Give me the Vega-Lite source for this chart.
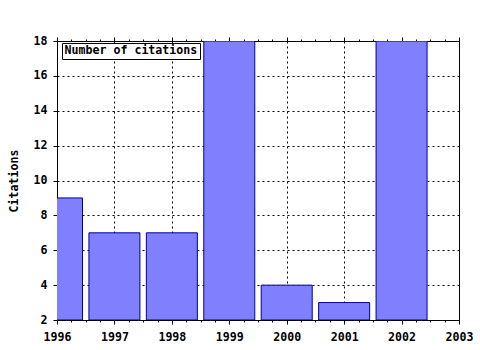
{
  "$schema": "https://vega.github.io/schema/vega-lite/v6.json",
  "width": 402,
  "height": 279,
  "autosize": {"type": "none"},
  "padding": {"left": 57, "top": 41, "right": 21, "bottom": 30},
  "background": "white",
  "config": {
    "view": {"stroke": "black", "strokeWidth": 1},
    "font": "DejaVu Sans Mono",
    "axis": {
      "labelFont": "DejaVu Sans Mono",
      "labelFontWeight": "bold",
      "labelFontSize": 11.6,
      "labelColor": "black",
      "titleFont": "DejaVu Sans Mono",
      "titleFontWeight": "bold",
      "titleFontSize": 11.6,
      "titleColor": "black",
      "tickColor": "black",
      "gridColor": "black",
      "gridDash": [2, 3],
      "gridOpacity": 1,
      "domain": false
    }
  },
  "data": {
    "values": [
      {"year": 1996, "citations": 9},
      {"year": 1997, "citations": 7},
      {"year": 1998, "citations": 7},
      {"year": 1999, "citations": 18},
      {"year": 2000, "citations": 4},
      {"year": 2001, "citations": 3},
      {"year": 2002, "citations": 18}
    ]
  },
  "layer": [
    {
      "mark": {"type": "bar", "width": 51, "stroke": "#000090", "strokeWidth": 1, "clip": true},
      "encoding": {
        "x": {
          "field": "year",
          "type": "quantitative",
          "scale": {"domain": [1996, 2003], "nice": false, "zero": false, "padding": 0},
          "axis": {
            "orient": "bottom",
            "title": null,
            "values": [1996, 1996.25, 1996.5, 1996.75, 1997, 1997.25, 1997.5, 1997.75, 1998, 1998.25, 1998.5, 1998.75, 1999, 1999.25, 1999.5, 1999.75, 2000, 2000.25, 2000.5, 2000.75, 2001, 2001.25, 2001.5, 2001.75, 2002, 2002.25, 2002.5, 2002.75, 2003],
            "labelExpr": "datum.value % 1 === 0 ? format(datum.value, 'd') : ''",
            "tickSize": {"condition": {"test": "datum.value % 1 === 0", "value": 4}, "value": 2},
            "gridOpacity": {"condition": {"test": "datum.value % 1 === 0", "value": 1}, "value": 0},
            "grid": true,
            "labelPadding": 7,
            "labelFlush": false,
            "labelOverlap": false
          }
        },
        "y": {
          "field": "citations",
          "type": "quantitative",
          "scale": {"domain": [2, 18], "nice": false, "zero": false},
          "axis": {
            "title": "Citations",
            "values": [2, 4, 6, 8, 10, 12, 14, 16, 18],
            "tickSize": 4,
            "labelPadding": 6,
            "grid": true,
            "titlePadding": 14
          }
        },
        "y2": {"datum": 2},
        "color": {
          "datum": "Number of citations",
          "type": "nominal",
          "scale": {"range": ["#8080ff"]},
          "legend": {
            "orient": "none",
            "legendX": 5,
            "legendY": 2,
            "title": null,
            "fillColor": "white",
            "strokeColor": "black",
            "padding": 2,
            "symbolSize": 0,
            "symbolOpacity": 0,
            "symbolStrokeWidth": 0,
            "labelOffset": -11,
            "labelFont": "DejaVu Sans Mono",
            "labelFontWeight": "bold",
            "labelFontSize": 11.6,
            "labelColor": "black"
          }
        }
      }
    },
    {
      "mark": {"type": "point", "opacity": 0},
      "encoding": {
        "x": {
          "field": "year",
          "type": "quantitative",
          "scale": {"domain": [1996, 2003], "nice": false, "zero": false, "padding": 0},
          "axis": {
            "orient": "top",
            "title": null,
            "values": [1996, 1996.25, 1996.5, 1996.75, 1997, 1997.25, 1997.5, 1997.75, 1998, 1998.25, 1998.5, 1998.75, 1999, 1999.25, 1999.5, 1999.75, 2000, 2000.25, 2000.5, 2000.75, 2001, 2001.25, 2001.5, 2001.75, 2002, 2002.25, 2002.5, 2002.75, 2003],
            "labels": false,
            "grid": false,
            "tickSize": {"condition": {"test": "datum.value % 1 === 0", "value": 4}, "value": 2}
          }
        }
      }
    }
  ],
  "resolve": {"axis": {"x": "independent"}}
}
